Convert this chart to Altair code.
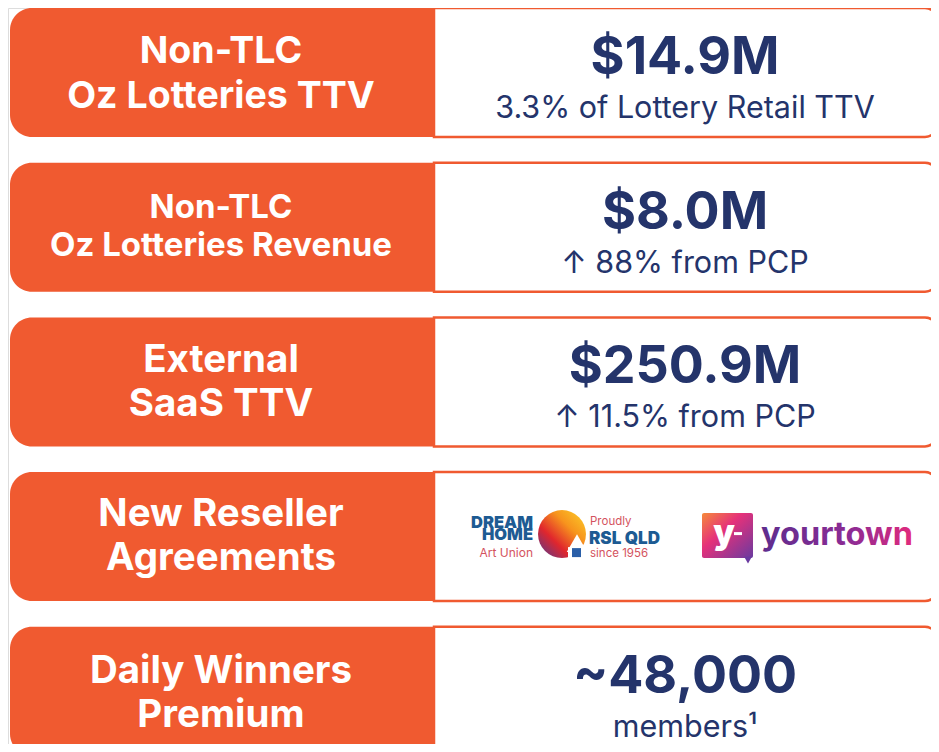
import altair as alt
import pandas as pd

# ---------------- data (text content of the five cards) ----------------
label_line1 = ["Non-TLC", "Non-TLC", "External", "New Reseller", "Daily Winners"]
label_line2 = ["Oz Lotteries TTV", "Oz Lotteries Revenue", "SaaS TTV", "Agreements", "Premium"]
headline = ["$14.9M", "$8.0M", "$250.9M", "", "~48,000"]
note = ["3.3% of Lottery Retail TTV", "\u2191 88% from PCP", "\u2191 11.5% from PCP", "", "members\u00b9"]

logo_dream = ["DREAM\nHOME"]
logo_dream_sub = ["Art Union"]
logo_rsl_small = ["Proudly", "since 1956"]
logo_rsl_big = ["RSL QLD"]
logo_yourtown = ["yourtown"]

# ---------------- style / layout ----------------
ORANGE = "#F05A30"
NAVY = "#24346B"
FONT = "Inter"
W, H = 923, 736
OX, OY = 8, 8  # page margin; layout is expressed in page pixels
CARD_TOP0, CARD_STEP, CARD_H = 8, 154.7, 129
LEFT_X0, SPLIT_X, RIGHT_X1 = 10, 434, 937
LABEL_CX, VALUE_CX = 221, 685
label_size = [37.5, 33, 38.5, 38.5, 38.5]
label_base = [(55, 100), (55, 93), (55, 99), (54, 98), (56, 100)]

xs = alt.Scale(domain=[OX, OX + W], nice=False, zero=False)
ys = alt.Scale(domain=[OY, OY + H], nice=False, zero=False, reverse=True)


def X(f):
    return alt.X(f, type="quantitative", scale=xs, axis=None)


def Y(f):
    return alt.Y(f, type="quantitative", scale=ys, axis=None)


rows = []
for i in range(len(label_line1)):
    top = CARD_TOP0 + i * CARD_STEP
    rows.append(dict(i=i, top=top, bot=top + CARD_H, x0=LEFT_X0, xs=SPLIT_X, x1=RIGHT_X1))
cards = pd.DataFrame(rows)

lab = []
for i in range(len(label_line1)):
    top = CARD_TOP0 + i * CARD_STEP
    lab.append(dict(x=LABEL_CX, y=top + label_base[i][0], t=label_line1[i], s=label_size[i]))
    lab.append(dict(x=LABEL_CX, y=top + label_base[i][1], t=label_line2[i], s=label_size[i]))
labels = pd.DataFrame(lab)

vals = []
notes = []
for i in range(len(headline)):
    top = CARD_TOP0 + i * CARD_STEP
    if headline[i]:
        vals.append(dict(x=VALUE_CX, y=top + 66, t=headline[i]))
    if note[i]:
        notes.append(dict(x=VALUE_CX, y=top + 110, t=note[i]))
vals = pd.DataFrame(vals)
notes = pd.DataFrame(notes)

white_box = alt.Chart(cards).mark_rect(
    fill="white", stroke=ORANGE, strokeWidth=2.5,
    cornerRadiusTopRight=12, cornerRadiusBottomRight=12, clip=True
).encode(x=X("xs"), x2="x1", y=Y("top"), y2="bot")

orange_box = alt.Chart(cards).mark_rect(
    fill=ORANGE, cornerRadiusTopLeft=22, cornerRadiusBottomLeft=22, clip=True
).encode(x=X("x0"), x2="xs", y=Y("top"), y2="bot")

label_text = alt.Chart(labels).mark_text(
    font=FONT, fontWeight=700, color="white", align="center", baseline="alphabetic"
).encode(x=X("x"), y=Y("y"), text="t:N", size=alt.Size("s:Q", scale=None, legend=None))

value_text = alt.Chart(vals).mark_text(
    font=FONT, fontWeight=700, color=NAVY, fontSize=52, align="center", baseline="alphabetic"
).encode(x=X("x"), y=Y("y"), text="t:N")

note_text = alt.Chart(notes).mark_text(
    font=FONT, fontWeight=400, color=NAVY, fontSize=30.5, align="center", baseline="alphabetic"
).encode(x=X("x"), y=Y("y"), text="t:N")

# ---------------- logos (card 4) ----------------
L4 = CARD_TOP0 + 3 * CARD_STEP  # card 4 top
DH_BLUE = "#1D5B93"
DH_RED = "#D4535E"

dream = pd.DataFrame(dict(x=[533], y=[L4 + 56], t=logo_dream))
dream_t = alt.Chart(dream).mark_text(
    font=FONT, fontWeight=900, fontSize=16.5, color=DH_BLUE, align="right",
    baseline="alphabetic", lineBreak="\n", lineHeight=12
).encode(x=X("x"), y=Y("y"), text="t:N")
dream_sub = alt.Chart(pd.DataFrame(dict(x=[533], y=[L4 + 85], t=logo_dream_sub))).mark_text(
    font=FONT, fontWeight=400, fontSize=12, color=DH_RED, align="right", baseline="alphabetic"
).encode(x=X("x"), y=Y("y"), text="t:N")

sun_grad = alt.LinearGradient(
    gradient="linear", x1=1, y1=0, x2=0, y2=1,
    stops=[alt.GradientStop(offset=0, color="#FCD22A"),
           alt.GradientStop(offset=0.35, color="#F7941D"),
           alt.GradientStop(offset=0.65, color="#E0262D"),
           alt.GradientStop(offset=1, color="#4A3B96")])
sun = alt.Chart(pd.DataFrame(dict(x=[562], y=[L4 + 62]))).mark_point(
    shape="circle", filled=True, fill=sun_grad, size=2300, opacity=1
).encode(x=X("x"), y=Y("y"))
roof = alt.Chart(pd.DataFrame(dict(x=[577], y=[L4 + 71]))).mark_point(
    shape="triangle-up", filled=True, fill="white", size=420, opacity=1
).encode(x=X("x"), y=Y("y"))
house = alt.Chart(pd.DataFrame(dict(x0=[568], x1=[587], y0=[L4 + 75], y1=[L4 + 88]))).mark_rect(
    fill="white").encode(x=X("x0"), x2="x1", y=Y("y0"), y2="y1")
door = alt.Chart(pd.DataFrame(dict(x0=[572], x1=[581], y0=[L4 + 76], y1=[L4 + 85]))).mark_rect(
    fill="#2A5FA8").encode(x=X("x0"), x2="x1", y=Y("y0"), y2="y1")

rsl_small = alt.Chart(pd.DataFrame(dict(x=[590, 590], y=[L4 + 53, L4 + 85], t=logo_rsl_small))).mark_text(
    font=FONT, fontWeight=400, fontSize=11.5, color=DH_RED, align="left", baseline="alphabetic"
).encode(x=X("x"), y=Y("y"), text="t:N")
rsl_big = alt.Chart(pd.DataFrame(dict(x=[589], y=[L4 + 71.5], t=logo_rsl_big))).mark_text(
    font=FONT, fontWeight=900, fontSize=17, color=DH_BLUE, align="left", baseline="alphabetic"
).encode(x=X("x"), y=Y("y"), text="t:N")

yt_grad = alt.LinearGradient(
    gradient="linear", x1=0, y1=0, x2=1, y2=1,
    stops=[alt.GradientStop(offset=0, color="#F6893A"),
           alt.GradientStop(offset=0.4, color="#E5317A"),
           alt.GradientStop(offset=1, color="#6A3AA0")])
yt_box = alt.Chart(pd.DataFrame(dict(x0=[702], x1=[753], y0=[L4 + 41], y1=[L4 + 86]))).mark_rect(
    fill=yt_grad, cornerRadius=2).encode(x=X("x0"), x2="x1", y=Y("y0"), y2="y1")
yt_tail = alt.Chart(pd.DataFrame(dict(x=[748], y=[L4 + 88]))).mark_point(
    shape="triangle-down", filled=True, fill="#6A3AA0", size=60, opacity=1
).encode(x=X("x"), y=Y("y"))
yt_y = alt.Chart(pd.DataFrame(dict(x=[724], y=[L4 + 72], t=["y"]))).mark_text(
    font=FONT, fontWeight=900, fontSize=34, color="white", align="center", baseline="alphabetic"
).encode(x=X("x"), y=Y("y"), text="t:N")
yt_dash = alt.Chart(pd.DataFrame(dict(x0=[734], x1=[742], y0=[L4 + 60], y1=[L4 + 63]))).mark_rect(
    fill="white").encode(x=X("x0"), x2="x1", y=Y("y0"), y2="y1")
word_grad = alt.LinearGradient(
    gradient="linear", x1=0, y1=0, x2=1, y2=0,
    stops=[alt.GradientStop(offset=0, color="#5E2D8E"),
           alt.GradientStop(offset=0.6, color="#8E2B94"),
           alt.GradientStop(offset=1, color="#E22A7C")])
yt_word = alt.Chart(pd.DataFrame(dict(x=[761], y=[L4 + 73], t=logo_yourtown))).mark_text(
    font=FONT, fontWeight=700, fontSize=32.5, fill=word_grad, align="left", baseline="alphabetic"
).encode(x=X("x"), y=Y("y"), text="t:N")

chart = alt.layer(
    white_box, orange_box, label_text, value_text, note_text,
    dream_t, dream_sub, sun, roof, house, door, rsl_small, rsl_big,
    yt_box, yt_tail, yt_y, yt_dash, yt_word,
).properties(
    width=W, height=H, padding=0, autosize=alt.AutoSizeParams(type="none")
).configure_view(stroke="transparent", strokeWidth=0).configure_axis(
    disable=True
).configure_legend(disable=True).configure(background="white")

chart.save("out.html", embed_options={"renderer": "svg", "actions": False})
